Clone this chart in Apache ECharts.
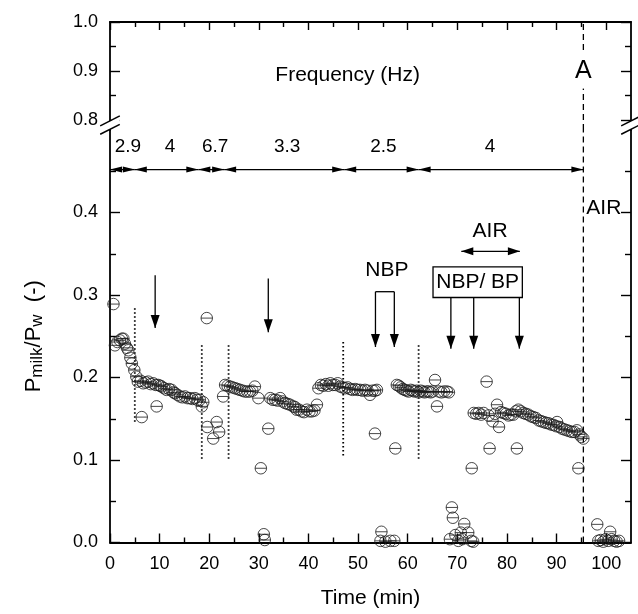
<!DOCTYPE html>
<html><head><meta charset="utf-8">
<script src="https://cdn.jsdelivr.net/npm/echarts@6/dist/echarts.min.js"></script>
<style>html,body{margin:0;padding:0;background:#fff}#c{width:638px;height:614px}</style>
</head><body><div id="c"></div>
<script>
// ---------- data (time in min, P_milk/P_w) ----------
const phase29 = [[0.7,0.289],[1.0,0.239],[1.5,0.243],[2.0,0.245],[2.4,0.247],[2.7,0.247],[3.0,0.241],[3.4,0.236],[3.7,0.233],[4.1,0.224],[4.4,0.217],[4.9,0.209],[5.3,0.201],[5.6,0.195],[6.4,0.152]];
const phase4a = [[6.2,0.196],[6.7,0.193],[7.2,0.194],[7.7,0.195],[8.2,0.192],[8.7,0.193],[9.2,0.191],[9.4,0.165],[9.7,0.191],[10.1,0.190],[10.4,0.189],[10.9,0.187],[11.4,0.185],[11.9,0.186],[12.4,0.185],[12.8,0.182],[13.1,0.181],[13.6,0.179],[14.1,0.177],[14.6,0.176],[15.1,0.177],[15.6,0.175],[16.1,0.175],[16.6,0.174],[17.1,0.175],[17.6,0.173],[18.1,0.173],[18.5,0.165],[18.8,0.170]];
const phase67 = [[19.5,0.272],[19.6,0.140],[20.8,0.126],[21.5,0.146],[22.0,0.134],[22.8,0.177],[23.2,0.191]];
const phase33 = [[23.7,0.190],[24.2,0.189],[24.7,0.188],[25.2,0.187],[25.7,0.186],[26.2,0.185],[26.7,0.184],[27.2,0.183],[27.7,0.183],[28.2,0.183],[28.7,0.184],[29.2,0.189],[29.9,0.175],[30.4,0.090],[31.0,0.010],[31.2,0.003],[31.9,0.138],
  [32.3,0.175],[32.8,0.173],[33.3,0.173],[33.8,0.172],[34.3,0.175],[34.8,0.171],[35.3,0.169],[35.8,0.168],[36.3,0.167],[36.9,0.165],[37.3,0.164],[37.6,0.161],[38.1,0.161],[38.6,0.159],[39.1,0.158],[39.7,0.161],[40.2,0.159],[40.7,0.159],[41.2,0.160],[41.7,0.167],
  [42.0,0.187],[42.5,0.191],[43.0,0.190],[43.5,0.192],[44.0,0.190],[44.4,0.193],[44.9,0.191],[45.4,0.191],[45.9,0.193],[46.4,0.189],[46.9,0.188]];
const phase25 = [[47.4,0.187],[47.9,0.188],[48.4,0.186],[48.9,0.185],[49.4,0.186],[49.9,0.185],[50.4,0.185],[50.9,0.184],[51.4,0.185],[51.9,0.184],[52.4,0.179],[52.9,0.184],[53.4,0.184],[53.8,0.185],[53.4,0.132],[54.5,0.002],[54.7,0.013],[55.5,0.001],[56.5,0.002],[57.3,0.002],[57.5,0.114],
  [57.8,0.191],[58.2,0.190],[58.6,0.188],[59.0,0.186],[59.4,0.185],[59.8,0.184],[60.2,0.183],[60.6,0.185],[61.0,0.184],[61.4,0.183],[61.8,0.184]];
const phase4b = [[62.2,0.182],[62.6,0.184],[63.0,0.183],[63.4,0.182],[63.8,0.183],[64.2,0.183],[64.6,0.182],[65.0,0.183],[65.5,0.197],[65.9,0.165],[66.3,0.183],[66.8,0.182],[67.3,0.183],[67.9,0.183],[68.3,0.182],
  [68.5,0.004],[68.9,0.0425],[69.1,0.030],[69.6,0.009],[70.2,0.002],[70.7,0.012],[71.0,0.004],[71.4,0.0225],[72.2,0.012],[72.8,0.002],[73.2,0.001],[72.9,0.090],
  [73.3,0.157],[73.8,0.156],[74.3,0.157],[74.8,0.155],[75.3,0.157],[75.9,0.195],[76.3,0.154],[76.5,0.114],[77.1,0.147],[77.6,0.156],[78.0,0.167],[78.4,0.140],[78.8,0.158],[79.3,0.157],[79.8,0.156],[80.3,0.154],[80.8,0.155],[81.3,0.155],[81.8,0.159],[82.0,0.114],[82.3,0.161],[82.8,0.159],[83.3,0.157],[83.8,0.156],[84.3,0.155],[84.8,0.153],[85.3,0.152],[85.8,0.151],[86.4,0.148],[86.9,0.147],[87.4,0.146],[87.9,0.145],[88.4,0.1445],[88.9,0.143],[89.4,0.1425],[89.9,0.141],[90.1,0.146],[90.6,0.140],[91.1,0.138],[91.6,0.137],[92.1,0.136],[92.6,0.135],[93.1,0.134],[93.6,0.134],[94.1,0.136],[94.4,0.090],[94.6,0.131],[95.0,0.128],[95.4,0.126]];
const phaseAir = [[98.2,0.022],[98.4,0.002],[98.9,0.003],[99.4,0.001],[99.9,0.004],[100.4,0.002],[100.8,0.013],[101.1,0.004],[101.6,0.002],[102.1,0.001],[102.6,0.002]];

// ---------- axes ticks ----------
const xMajor = [0,10,20,30,40,50,60,70,80,90,100];
const xMinor = [5,15,25,35,45,55,65,75,85,95];
const yUpperMajor = [0.8,0.9,1.0];
const yUpperMinor = [0.85,0.95];
const yLowerMajor = [0,0.1,0.2,0.3,0.4];
const yLowerMinor = [0.05,0.15,0.25,0.35,0.45];

// ---------- annotations (data coordinates) ----------
const freqBounds = [0,5.0,17.8,23.0,47.2,62.2,95.4];
const freqValues = ['2.9','4','6.7','3.3','2.5','4'];
const freqLabelX = [3.6,12.1,21.2,35.7,55.1,76.6];
const freqLineLevel = 0.452;
const freqLabelLevel = 0.48;
const dottedX = [5.0,18.5,23.9,47.0,62.2];
const dottedTop = [0.284,0.239,0.239,0.243,0.239];
const dottedBottom = [0.145,0.100,0.100,0.104,0.100];
const airStart = 95.4;
const downArrowX = [9.1,31.9];
const downArrowTop = [0.324,0.320];
const downArrowTip = [0.260,0.255];
const nbpX = [53.5,57.3], nbpTop = 0.304, nbpTip = 0.237;
const nbpBpX = [68.7,73.3,82.5], nbpBpBox = [65.1,83.1,0.297,0.334], nbpBpTip = 0.235;
const airSpan = [70.8,82.6], airLevel = 0.353;
const lowerTexts = [['NBP',55.8,0.330,'center'],['NBP/ BP',74.1,0.3155,'center'],['AIR',76.6,0.377,'center'],['AIR',96.0,0.405,'left']];
const upperTexts = [['Frequency (Hz)',47.9,0.892]];
const upperMarker = ['A',95.4,0.90];

const FONT = '"Liberation Sans", Arial, Helvetica, sans-serif';
const allPoints = [].concat(phase29, phase4a, phase67, phase33, phase25, phase4b, phaseAir);

function head(tip, from, len, hw) {
  const dx = tip[0]-from[0], dy = tip[1]-from[1];
  const d = Math.hypot(dx, dy) || 1, ux = dx/d, uy = dy/d;
  const bx = tip[0]-ux*len, by = tip[1]-uy*len;
  return {type:'polygon', shape:{points:[tip,[bx-uy*hw,by+ux*hw],[bx+uy*hw,by-ux*hw]]}, style:{fill:'#000'}};
}
function segRender(len, hw) {
  return function(params, api) {
    const p0 = api.coord([api.value(0), api.value(1)]);
    const p1 = api.coord([api.value(2), api.value(3)]);
    const ch = [{type:'line', shape:{x1:p0[0],y1:p0[1],x2:p1[0],y2:p1[1]}, style:{stroke:'#000', lineWidth:1.3}}];
    if (api.value(4)) ch.push(head(p0, p1, len, hw));
    if (api.value(5)) ch.push(head(p1, p0, len, hw));
    return {type:'group', children:ch};
  };
}
function vlineRender(dash, w) {
  return function(params, api) {
    const a = api.coord([api.value(0), api.value(1)]);
    const b = api.coord([api.value(0), api.value(2)]);
    return {type:'line', shape:{x1:a[0],y1:a[1],x2:b[0],y2:b[1]}, style:{stroke:'#000', lineWidth:w, lineDash:dash}};
  };
}

const freqSegs = [];
for (let i = 0; i < freqBounds.length-1; i++) freqSegs.push([freqBounds[i], freqLineLevel, freqBounds[i+1], freqLineLevel, 1, 1]);
const annSegs = [];
downArrowX.forEach((x,i) => annSegs.push([x, downArrowTop[i], x, downArrowTip[i], 0, 1]));
annSegs.push([nbpX[0], nbpTop, nbpX[0], nbpTip, 0, 1]);
annSegs.push([nbpX[1], nbpTop, nbpX[1], nbpTip, 0, 1]);
annSegs.push([nbpX[0], nbpTop, nbpX[1], nbpTop, 0, 0]);
nbpBpX.forEach(x => annSegs.push([x, nbpBpBox[2], x, nbpBpTip, 0, 1]));
const airSegs = [[airSpan[0], airLevel, airSpan[1], airLevel, 1, 1]];
const dotted = dottedX.map((x,i) => [x, dottedTop[i], dottedBottom[i]]);
const freqText = freqValues.map((t,i) => [t, freqLabelX[i], freqLabelLevel, 'center', 19]);
const lowerAllTexts = lowerTexts.map(d => d.concat([21])).concat(freqText);

const axLine = {show:true, lineStyle:{color:'#000', width:1.8}};
const tickStyle = {color:'#000', width:1.4};
function xAxisDef(grid, pos, ticks, len, withLine, labels) {
  return {gridIndex:grid, type:'value', min:0, max:105, position:pos,
    axisLine: withLine ? axLine : {show:false},
    axisTick:{show:true, inside:true, length:len, customValues:ticks, lineStyle:tickStyle},
    axisLabel: labels ? {show:true, customValues:ticks, margin:13, color:'#000', fontSize:18, fontFamily:FONT} : {show:false},
    splitLine:{show:false}};
}
function yAxisDef(grid, pos, min, max, ticks, len, withLine, labels) {
  return {gridIndex:grid, type:'value', min:min, max:max, position:pos,
    axisLine: withLine ? axLine : {show:false},
    axisTick:{show:true, inside:true, length:len, customValues:ticks, lineStyle:tickStyle},
    axisLabel: labels ? {show:true, customValues:ticks, margin:12, color:'#000', fontSize:18, fontFamily:FONT, formatter:v => v.toFixed(1)} : {show:false},
    splitLine:{show:false}};
}

const xBottom = xAxisDef(1,'bottom',xMajor,9,true,true);
xBottom.axisLabel.formatter = v => String(Math.round(v));
xBottom.name = 'Time (min)';
xBottom.nameLocation = 'middle';
xBottom.nameGap = 45;
xBottom.nameTextStyle = {fontSize:21, fontFamily:FONT, color:'#000'};

const yLowerLeft = yAxisDef(1,'left',0,0.5,yLowerMajor,10,true,true);
yLowerLeft.name = '{m|P}{s|milk}{m|/P}{s|w}{m|  (-)}';
yLowerLeft.nameLocation = 'middle';
yLowerLeft.nameRotate = 90;
yLowerLeft.nameGap = 64;
yLowerLeft.nameTextStyle = {rich:{
  m:{fontSize:22, fontFamily:FONT, color:'#000', lineHeight:23, verticalAlign:'top'},
  s:{fontSize:17, fontFamily:FONT, color:'#000', lineHeight:17, padding:[11,0,0,0], verticalAlign:'bottom'}
}};

const option = {
  animation:false,
  backgroundColor:'#fff',
  grid:[
    {left:110, right:7, top:22, height:108},
    {left:110, right:7, top:130, height:412.5}
  ],
  xAxis:[
    xAxisDef(0,'top',xMajor,8,true,false),
    xAxisDef(0,'top',xMinor,5,false,false),
    xBottom,
    xAxisDef(1,'bottom',xMinor,5,false,false)
  ],
  yAxis:[
    yAxisDef(0,'left',0.78,1.0,yUpperMajor,10,true,true),
    yAxisDef(0,'left',0.78,1.0,yUpperMinor,6,false,false),
    yAxisDef(0,'right',0.78,1.0,yUpperMajor,10,true,false),
    yAxisDef(0,'right',0.78,1.0,yUpperMinor,6,false,false),
    yLowerLeft,
    yAxisDef(1,'left',0,0.5,yLowerMinor,6,false,false),
    yAxisDef(1,'right',0,0.5,yLowerMajor,10,true,false),
    yAxisDef(1,'right',0,0.5,yLowerMinor,6,false,false)
  ],
  series:[
    {type:'custom', xAxisIndex:0, yAxisIndex:0, clip:false, z:3, silent:true,
     data:[[airStart,0.78,1.0]], renderItem:vlineRender([6,4],1.3)},
    {type:'custom', xAxisIndex:2, yAxisIndex:4, clip:false, z:3, silent:true,
     data:[[airStart,0,0.5]], renderItem:vlineRender([6,4],1.3)},
    {type:'custom', xAxisIndex:2, yAxisIndex:4, clip:false, z:3, silent:true,
     data:dotted, renderItem:vlineRender([1.5,2.5],1.8)},
    {type:'scatter', xAxisIndex:2, yAxisIndex:4, data:allPoints, silent:true, z:4,
     symbol:'path://M0,-10A10,10,0,1,1,0,10A10,10,0,1,1,0,-10ZM-10,0L10,0',
     symbolSize:11.5,
     itemStyle:{color:'rgba(0,0,0,0)', borderColor:'#1a1a1a', borderWidth:1}},
    {type:'custom', xAxisIndex:2, yAxisIndex:4, clip:false, z:5, silent:true,
     data:freqSegs, renderItem:segRender(12,3)},
    {type:'custom', xAxisIndex:2, yAxisIndex:4, clip:false, z:5, silent:true,
     data:annSegs, renderItem:segRender(13,4.5)},
    {type:'custom', xAxisIndex:2, yAxisIndex:4, clip:false, z:5, silent:true,
     data:airSegs, renderItem:segRender(12,4)},
    {type:'custom', xAxisIndex:2, yAxisIndex:4, clip:false, z:5, silent:true,
     data:[nbpBpBox], renderItem:function(params, api){
       const a = api.coord([api.value(0), api.value(3)]);
       const b = api.coord([api.value(1), api.value(2)]);
       return {type:'rect', shape:{x:a[0], y:a[1], width:b[0]-a[0], height:b[1]-a[1]}, style:{fill:'#fff', stroke:'#000', lineWidth:1.3}};
     }},
    {type:'custom', xAxisIndex:2, yAxisIndex:4, clip:false, z:6, silent:true,
     data:lowerAllTexts.map(d => [d[1], d[2]]), renderItem:function(params, api){
       const d = lowerAllTexts[params.dataIndex];
       const p = api.coord([api.value(0), api.value(1)]);
       return {type:'text', x:p[0], y:p[1], style:{text:d[0], fontSize:d[4], fontFamily:FONT, fill:'#000', align:d[3], verticalAlign:'middle'}};
     }},
    {type:'custom', xAxisIndex:0, yAxisIndex:0, clip:false, z:6, silent:true,
     data:upperTexts.map(d => [d[1], d[2]]), renderItem:function(params, api){
       const d = upperTexts[params.dataIndex];
       const p = api.coord([api.value(0), api.value(1)]);
       return {type:'text', x:p[0], y:p[1], style:{text:d[0], fontSize:21, fontFamily:FONT, fill:'#000', align:'center', verticalAlign:'middle'}};
     }},
    {type:'custom', xAxisIndex:0, yAxisIndex:0, clip:false, z:6, silent:true,
     data:[[upperMarker[1], upperMarker[2]]], renderItem:function(params, api){
       const p = api.coord([api.value(0), api.value(1)]);
       return {type:'text', x:p[0], y:p[1], style:{text:upperMarker[0], fontSize:25, fontFamily:FONT, fill:'#000', align:'center', verticalAlign:'middle', backgroundColor:'#fff', padding:[5,0,5,0]}};
     }},
    {type:'custom', xAxisIndex:0, yAxisIndex:0, clip:false, z:7, silent:true,
     data:[[0,0.79],[105,0.79]], renderItem:function(params, api){
       const c = api.coord([api.value(0), api.value(1)]);
       const hl = 11, sep = 4.2, ang = 27*Math.PI/180;
       const dx = Math.cos(ang)*hl, dy = Math.sin(ang)*hl;
       const a1 = [c[0]-dx, c[1]-sep+dy], a2 = [c[0]+dx, c[1]-sep-dy];
       const b1 = [c[0]-dx, c[1]+sep+dy], b2 = [c[0]+dx, c[1]+sep-dy];
       return {type:'group', children:[
         {type:'polygon', shape:{points:[a1,a2,b2,b1]}, style:{fill:'#fff'}},
         {type:'line', shape:{x1:a1[0],y1:a1[1],x2:a2[0],y2:a2[1]}, style:{stroke:'#000', lineWidth:1.5}},
         {type:'line', shape:{x1:b1[0],y1:b1[1],x2:b2[0],y2:b2[1]}, style:{stroke:'#000', lineWidth:1.5}}
       ]};
     }}
  ]
};
const chart = echarts.init(document.getElementById('c'), null, {renderer:'canvas'});
chart.setOption(option);
</script></body></html>
